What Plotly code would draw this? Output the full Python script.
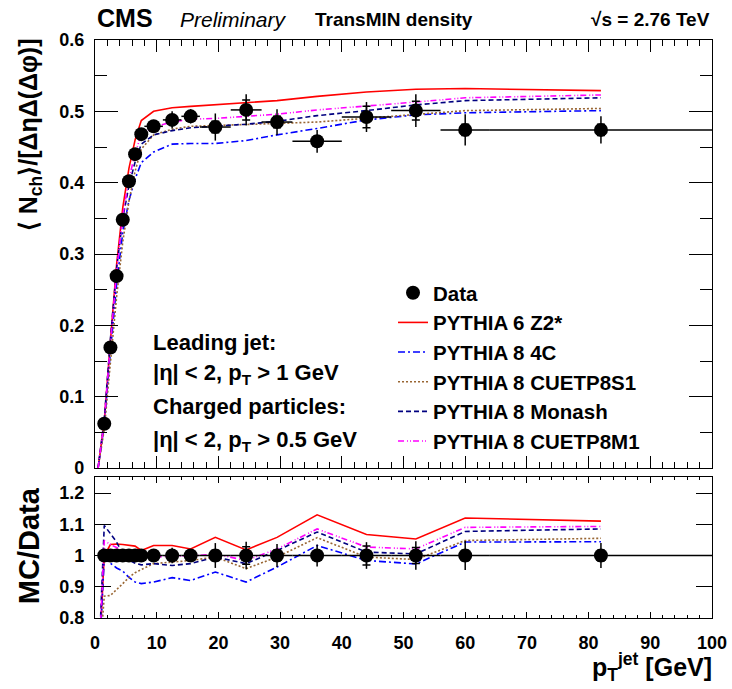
import plotly.graph_objects as go

# ---------------- data ----------------
pt = [1.5, 2.5, 3.5, 4.5, 5.5, 6.5, 7.5, 9.5, 12.5, 15.5, 19.5, 24.5, 29.5, 36, 44, 52, 60, 82]
pt_halfwidth = [0.5, 0.5, 0.5, 0.5, 0.5, 0.5, 0.5, 1.5, 1.5, 1.5, 2.5, 2.5, 2.5, 4, 4, 4, 4, 18]
data = [0.062, 0.169, 0.269, 0.348, 0.402, 0.440, 0.468, 0.479, 0.488, 0.493,
        0.478, 0.502, 0.485, 0.458, 0.492, 0.501, 0.474, 0.474]
err_tot = [0.001, 0.0015, 0.002, 0.003, 0.003, 0.004, 0.004, 0.007, 0.012, 0.010,
           0.019, 0.022, 0.018, 0.016, 0.021, 0.023, 0.022, 0.019]
err_stat = [0.0005, 0.001, 0.001, 0.0015, 0.002, 0.002, 0.002, 0.003, 0.005, 0.005,
            0.008, 0.014, 0.008, 0.007, 0.015, 0.013, 0.008, 0.008]

mc_pt = [0.5] + pt
z2star = [0.0, 0.065, 0.178, 0.285, 0.365, 0.420, 0.460, 0.487, 0.500, 0.505, 0.507,
          0.509, 0.512, 0.515, 0.521, 0.527, 0.531, 0.532, 0.529]
p8_4c = [0.0, 0.060, 0.163, 0.257, 0.330, 0.375, 0.405, 0.428, 0.443, 0.454, 0.455,
         0.455, 0.459, 0.467, 0.476, 0.488, 0.495, 0.498, 0.501]
cuetp8s1 = [0.0, 0.054, 0.148, 0.240, 0.317, 0.374, 0.416, 0.447, 0.467, 0.475, 0.479,
            0.480, 0.481, 0.483, 0.485, 0.490, 0.496, 0.501, 0.504]
monash = [0.0, 0.068, 0.181, 0.280, 0.350, 0.396, 0.429, 0.454, 0.467, 0.473, 0.477,
          0.479, 0.482, 0.486, 0.494, 0.501, 0.509, 0.515, 0.519]
cuetp8m1 = [0.0, 0.065, 0.175, 0.276, 0.354, 0.405, 0.441, 0.468, 0.478, 0.485, 0.489,
            0.490, 0.493, 0.496, 0.502, 0.507, 0.513, 0.519, 0.523]

r_z2star = [0.6, 1.0, 1.035, 1.037, 1.035, 1.033, 1.03, 1.016, 1.032, 1.032, 1.021,
            1.058, 1.018, 1.058, 1.13, 1.067, 1.053, 1.12, 1.11]
r_4c = [0.6, 0.99, 0.975, 0.96, 0.95, 0.93, 0.915, 0.91, 0.915, 0.929, 0.92,
        0.947, 0.915, 0.963, 1.032, 0.984, 0.973, 1.043, 1.044]
r_s1 = [0.6, 0.87, 0.872, 0.89, 0.91, 0.93, 0.945, 0.955, 0.974, 0.979, 0.984,
        0.995, 0.958, 0.995, 1.057, 0.995, 0.987, 1.048, 1.055]
r_monash = [0.6, 1.096, 1.07, 1.043, 1.005, 0.985, 0.975, 0.97, 0.974, 0.968, 0.974,
            0.995, 0.974, 1.016, 1.075, 1.011, 1.005, 1.077, 1.085]
r_m1 = [0.6, 1.048, 1.035, 1.025, 1.016, 1.008, 1.003, 1.0, 0.995, 0.998, 0.998,
        1.005, 0.984, 1.021, 1.085, 1.027, 1.021, 1.09, 1.093]

names = ["PYTHIA 6 Z2*", "PYTHIA 8 4C", "PYTHIA 8 CUETP8S1", "PYTHIA 8 Monash", "PYTHIA 8 CUETP8M1"]
main_mc = [z2star, p8_4c, cuetp8s1, monash, cuetp8m1]
ratio_mc = [r_z2star, r_4c, r_s1, r_monash, r_m1]
colors = ["#ff0000", "#0000ff", "#996633", "#000080", "#ff00ff"]
dashes = ["solid", "7px,3px,2px,3px", "2px,2px", "5px,3px", "6px,3px,1px,2px,1px,2px"]

ratio_one = [1.0 for _ in pt]
ratio_err = [e / d for e, d in zip(err_tot, data)]
ratio_stat = [e / d for e, d in zip(err_stat, data)]

FONT = "Liberation Sans"

fig = go.Figure()

# ---------------- main panel ----------------
for i, (nm, ys) in enumerate(zip(names, main_mc)):
    fig.add_trace(go.Scatter(x=mc_pt, y=ys, mode="lines", name=nm, legendrank=i + 2,
                             line=dict(color=colors[i], width=1.6, dash=dashes[i]),
                             xaxis="x", yaxis="y"))

fig.add_trace(go.Scatter(x=pt, y=data, mode="markers", showlegend=False,
                         marker=dict(color="rgba(0,0,0,0)", size=1),
                         error_y=dict(type="data", array=err_stat, color="black", thickness=1.5, width=4),
                         xaxis="x", yaxis="y"))
fig.add_trace(go.Scatter(x=pt, y=data, mode="markers", name="Data", legendrank=1,
                         marker=dict(color="black", size=14, symbol="circle"),
                         error_y=dict(type="data", array=err_tot, color="black", thickness=1.5, width=0),
                         error_x=dict(type="data", array=pt_halfwidth, color="black", thickness=1.5, width=0),
                         xaxis="x", yaxis="y"))

# ---------------- ratio panel ----------------
for i, ys in enumerate(ratio_mc):
    fig.add_trace(go.Scatter(x=mc_pt, y=ys, mode="lines", showlegend=False,
                             line=dict(color=colors[i], width=1.6, dash=dashes[i]),
                             xaxis="x2", yaxis="y2"))
fig.add_trace(go.Scatter(x=pt, y=ratio_one, mode="markers", showlegend=False,
                         marker=dict(color="rgba(0,0,0,0)", size=1),
                         error_y=dict(type="data", array=ratio_stat, color="black", thickness=1.5, width=4),
                         xaxis="x2", yaxis="y2"))
fig.add_trace(go.Scatter(x=pt, y=ratio_one, mode="markers", showlegend=False,
                         marker=dict(color="black", size=14, symbol="circle"),
                         error_y=dict(type="data", array=ratio_err, color="black", thickness=1.5, width=0),
                         error_x=dict(type="data", array=pt_halfwidth, color="black", thickness=1.5, width=0),
                         xaxis="x2", yaxis="y2"))

tickfont = dict(family=FONT, size=18, color="black", weight="bold")
common = dict(showline=True, linecolor="black", linewidth=1.2, mirror="ticks",
              ticks="inside", tickcolor="black", tickwidth=1.2, showgrid=False,
              zeroline=False, tickfont=tickfont, automargin=False)

fig.update_layout(
    width=732, height=689, autosize=False,
    margin=dict(l=95, r=20, t=40, b=71, autoexpand=False),
    paper_bgcolor="white", plot_bgcolor="white",
    font=dict(family=FONT, color="black"),
    xaxis=dict(domain=[0, 1], range=[0, 100], anchor="y", dtick=10, ticklen=12,
               showticklabels=False,
               minor=dict(dtick=2, ticklen=6, ticks="inside", tickcolor="black", tickwidth=1.2),
               **common),
    yaxis=dict(domain=[0.2595, 1], range=[0, 0.6], anchor="x", dtick=0.1, ticklen=23,
               ticklabelstandoff=6,
               minor=dict(dtick=0.05, ticklen=12, ticks="inside", tickcolor="black", tickwidth=1.2),
               **common),
    xaxis2=dict(domain=[0, 1], range=[0, 100], anchor="y2", dtick=10, ticklen=6,
                ticklabelstandoff=8,
                minor=dict(dtick=2, ticklen=3, ticks="inside", tickcolor="black", tickwidth=1.2),
                **common),
    yaxis2=dict(domain=[0, 0.2433], range=[0.8, 1.25], anchor="x2",
                tickvals=[0.8, 0.9, 1.0, 1.1, 1.2], ticktext=["0.8", "0.9", "1", "1.1", "1.2"],
                ticklen=16, ticklabelstandoff=6, **common),
    legend=dict(x=0.483, y=0.597, xanchor="left", yanchor="top",
                bgcolor="rgba(0,0,0,0)", tracegroupgap=0,
                font=dict(family=FONT, size=20.5, color="black", weight="bold")),
    showlegend=True,
)

ann = []
def A(text, x, y, size, xanchor="left", yanchor="middle", angle=0, italic=False, bold=True):
    ann.append(dict(text=text, x=x, y=y, xref="paper", yref="paper", showarrow=False,
                    xanchor=xanchor, yanchor=yanchor, textangle=angle,
                    font=dict(family=FONT, size=size, color="black",
                              weight="bold" if bold else "normal",
                              style="italic" if italic else "normal")))

# header
A("CMS", 0.0, 1.038, 25)
A("Preliminary", 0.1345, 1.036, 21, italic=True, bold=False)
A("TransMIN density", 0.3533, 1.036, 19)
A("√s = 2.76 TeV", 1.0, 1.036, 19, xanchor="right")

# axis titles
A("⟨ N<sub>ch</sub>⟩/[ΔηΔ(Δφ)]", -0.105, 1.006, 25, xanchor="center", yanchor="top", angle=-90)
A("MC/Data", -0.107, 0.126, 29, xanchor="center", angle=-90)
A("p<sub>T</sub><sup>jet</sup> [GeV]", 1.003, -0.085, 25, xanchor="right")

# selection text
A("Leading jet:", 0.0903, 0.4775, 22)
A("|η| &lt; 2, p<sub>T</sub> &gt; 1 GeV", 0.0903, 0.422, 22)
A("Charged particles:", 0.0903, 0.3651, 22)
A("|η| &lt; 2, p<sub>T</sub> &gt; 0.5 GeV", 0.0903, 0.306, 22)

fig.update_layout(annotations=ann)
fig.write_html("out.html", config={"displayModeBar": False},
               post_script="document.body.style.margin='0';document.body.style.overflow='hidden';")
